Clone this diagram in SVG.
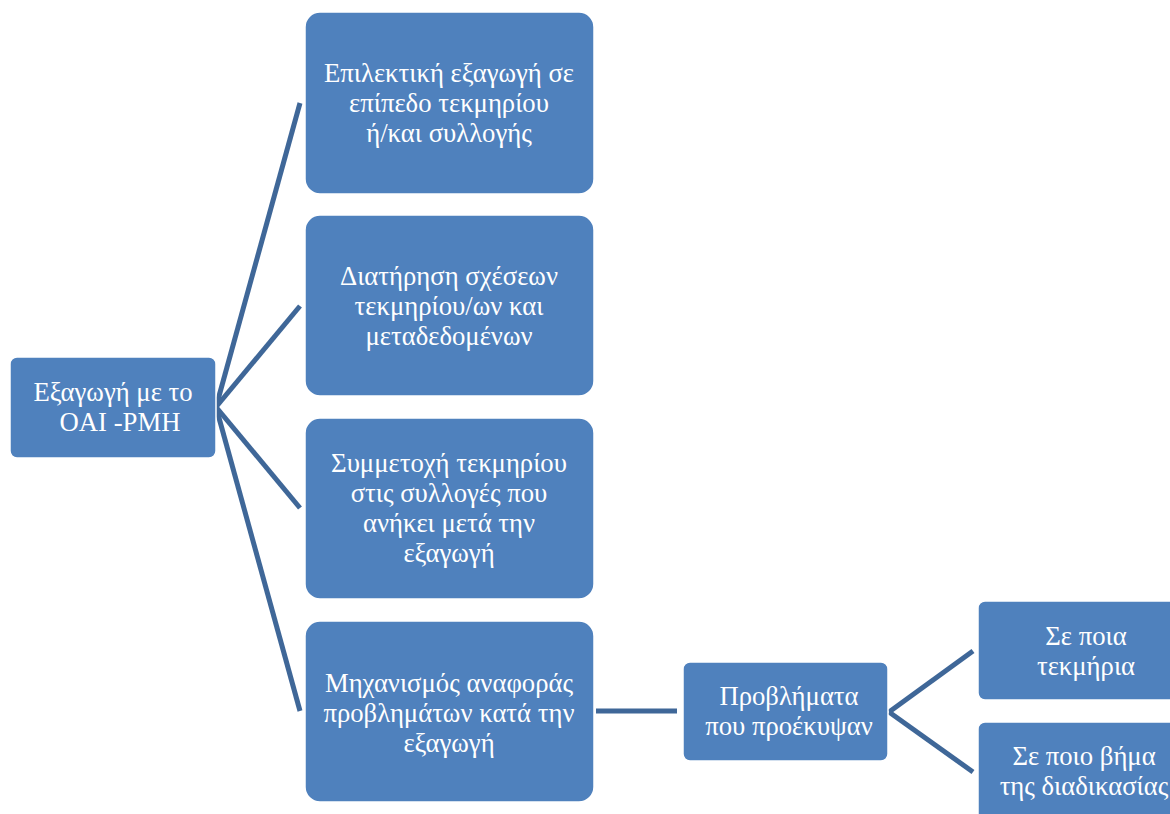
<svg xmlns="http://www.w3.org/2000/svg" width="1170" height="814" viewBox="0 0 1170 814">
  <style>
    .box { fill: #4f81bd; stroke: #ffffff; stroke-width: 1.5; }
    .lbl { font-family: "Liberation Serif", "Times New Roman", serif; font-size: 26.7px; fill: #ffffff; text-anchor: middle; }
    .link { stroke: #3f6798; stroke-width: 5; fill: none; }
  </style>
  <rect width="1170" height="814" fill="#ffffff"/>

  <g id="connectors">
    <line class="link" x1="216" y1="407" x2="300" y2="103"/>
    <line class="link" x1="216" y1="407" x2="300" y2="306"/>
    <line class="link" x1="216" y1="407" x2="300" y2="508"/>
    <line class="link" x1="216" y1="407" x2="300" y2="711"/>
    <line class="link" x1="596" y1="711" x2="677" y2="711"/>
    <line class="link" x1="889" y1="712" x2="973" y2="651"/>
    <line class="link" x1="889" y1="712" x2="973" y2="772"/>
  </g>

  <g id="root">
    <rect class="box" x="10" y="357" width="206" height="101" rx="7"/>
    <text class="lbl"><tspan x="113" y="401">Εξαγωγή με το</tspan><tspan x="120" y="431">OAI -PMH</tspan></text>
  </g>

  <g id="selective">
    <rect class="box" x="305" y="12" width="289" height="182" rx="15"/>
    <text class="lbl"><tspan x="449" y="82">Επιλεκτική εξαγωγή σε</tspan><tspan x="449" y="112">επίπεδο τεκμηρίου</tspan><tspan x="449" y="142">ή/και συλλογής</tspan></text>
  </g>

  <g id="relations">
    <rect class="box" x="305" y="215" width="289" height="181" rx="15"/>
    <text class="lbl"><tspan x="449" y="285">Διατήρηση σχέσεων</tspan><tspan x="449" y="315">τεκμηρίου/ων και</tspan><tspan x="449" y="345">μεταδεδομένων</tspan></text>
  </g>

  <g id="membership">
    <rect class="box" x="305" y="418" width="289" height="181" rx="15"/>
    <text class="lbl"><tspan x="449" y="472">Συμμετοχή τεκμηρίου</tspan><tspan x="449" y="502">στις συλλογές που</tspan><tspan x="449" y="532">ανήκει μετά την</tspan><tspan x="449" y="562">εξαγωγή</tspan></text>
  </g>

  <g id="reporting">
    <rect class="box" x="305" y="621" width="289" height="181" rx="15"/>
    <text class="lbl"><tspan x="449" y="692">Μηχανισμός αναφοράς</tspan><tspan x="449" y="722">προβλημάτων κατά την</tspan><tspan x="449" y="752">εξαγωγή</tspan></text>
  </g>

  <g id="problems">
    <rect class="box" x="683" y="662" width="205" height="99" rx="7"/>
    <text class="lbl"><tspan x="789" y="705">Προβλήματα</tspan><tspan x="789" y="735">που προέκυψαν</tspan></text>
  </g>

  <g id="which-items">
    <rect class="box" x="978" y="601" width="214" height="99" rx="7"/>
    <text class="lbl"><tspan x="1086" y="645">Σε ποια</tspan><tspan x="1086" y="675">τεκμήρια</tspan></text>
  </g>

  <g id="which-step">
    <rect class="box" x="978" y="722" width="214" height="99" rx="7"/>
    <text class="lbl"><tspan x="1084" y="765">Σε ποιο βήμα</tspan><tspan x="1084" y="795">της διαδικασίας</tspan></text>
  </g>
</svg>
